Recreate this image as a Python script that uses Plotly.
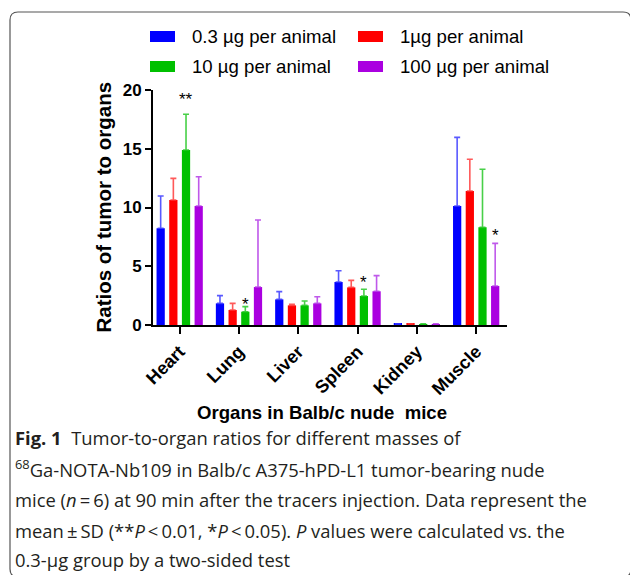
import plotly.graph_objects as go

# ---------------- data ----------------
organs = ["Heart", "Lung", "Liver", "Spleen", "Kidney", "Muscle"]
series_names = ["0.3 µg per animal", "1µg per animal", "10 µg per animal", "100 µg per animal"]
colors = ["#0000FF", "#FF0000", "#00C000", "#AA00E0"]
err_colors = ["rgba(60,60,255,0.85)", "rgba(255,60,60,0.85)", "rgba(40,200,40,0.85)", "rgba(180,60,230,0.85)"]

mean_03 = [8.23, 1.84, 2.18, 3.66, 0.09, 10.13]
sd_03 = [2.75, 0.66, 0.66, 0.96, 0.02, 5.84]
mean_1 = [10.64, 1.28, 1.67, 3.20, 0.09, 11.40]
sd_1 = [1.84, 0.56, 0.10, 0.60, 0.02, 2.70]
mean_10 = [14.89, 1.13, 1.67, 2.47, 0.08, 8.31]
sd_10 = [3.04, 0.43, 0.37, 0.57, 0.02, 4.94]
mean_100 = [10.13, 3.23, 1.84, 2.87, 0.08, 3.32]
sd_100 = [2.49, 5.71, 0.57, 1.33, 0.02, 3.63]

means = [mean_03, mean_1, mean_10, mean_100]
sds = [sd_03, sd_1, sd_10, sd_100]

y_ticks = [0, 5, 10, 15, 20]

# significance marks: (organ index, series index, label, y position)
sig_organ = [0, 1, 3, 5]
sig_series = [2, 2, 2, 3]
sig_label = ["**", "*", "*", "*"]
sig_y = [19.5, 2.1, 4.0, 8.0]

x_title = "Organs in Balb/c nude\u00a0 mice"
y_title = "Ratios of tumor to organs"
caption_lines = [
    "<b>Fig. 1</b>\u00a0 Tumor-to-organ ratios for different masses of",
    "<sup>68</sup>Ga-NOTA-Nb109 in Balb/c A375-hPD-L1 tumor-bearing nude",
    "mice (<i>n</i>\u2009=\u20096) at 90 min after the tracers injection. Data represent the",
    "mean\u2009±\u2009SD (**<i>P</i>\u2009<\u20090.01, *<i>P</i>\u2009<\u20090.05). <i>P</i> values were calculated vs. the",
    "0.3-µg group by a two-sided test",
]

# ---------------- layout geometry ----------------
W, H = 630, 575
L, R, T, B = 153, 123, 90, 250
PW, PH = W - L - R, H - T - B
BARGAP = 0.145
NS = len(series_names)


def px_x(px):
    return (px - L) / PW


def px_y(py):
    return (H - B - py) / PH


FONT = "Arial, Liberation Sans, sans-serif"
CAPFONT = "Open Sans, Noto Sans, sans-serif"

fig = go.Figure()
xs = list(range(len(organs)))
for k in range(NS):
    fig.add_trace(go.Bar(
        x=xs, y=means[k], name=series_names[k],
        marker=dict(color=colors[k], line=dict(width=0)),
        error_y=dict(type="data", array=sds[k], arrayminus=[0] * len(organs),
                     symmetric=False, color=err_colors[k], thickness=1.6, width=3),
        showlegend=False,
    ))

annotations = []
# significance asterisks
for o, s, lab, yv in zip(sig_organ, sig_series, sig_label, sig_y):
    off = (1 - BARGAP) * ((s + 0.5) / NS - 0.5)
    annotations.append(dict(x=o + off, y=yv, xref="x", yref="y", text=lab, showarrow=False,
                            font=dict(family=FONT, size=17, color="black"),
                            yanchor="middle", yshift=-4))

# manual legend
shapes = []
leg_sw_x = [150, 358]
leg_txt_x = [190, 398]
leg_row_y = [36.5, 66.5]
for k in range(NS):
    col, row = k % 2, k // 2
    shapes.append(dict(type="rect", xref="paper", yref="paper",
                       x0=px_x(leg_sw_x[col]), x1=px_x(leg_sw_x[col] + 25),
                       y0=px_y(leg_row_y[row] - 5.5), y1=px_y(leg_row_y[row] + 5.5),
                       fillcolor=colors[k], line=dict(width=0)))
    annotations.append(dict(x=px_x(leg_txt_x[col]), y=px_y(leg_row_y[row]), xref="paper", yref="paper",
                            text=series_names[k], showarrow=False, xanchor="left", yanchor="middle",
                            font=dict(family=FONT, size=18.6, color="black")))

# axis titles
annotations.append(dict(x=px_x(322), y=px_y(412), xref="paper", yref="paper", text=x_title,
                        showarrow=False, xanchor="center", yanchor="middle",
                        font=dict(family=FONT, size=18.6, color="black", weight="bold")))
annotations.append(dict(x=px_x(103), y=px_y(207.5), xref="paper", yref="paper", text=y_title,
                        showarrow=False, xanchor="center", yanchor="middle", textangle=-90,
                        font=dict(family=FONT, size=20.5, color="black", weight="bold")))

# caption
cap_y = [437, 468, 499, 530, 559]
for line, yy in zip(caption_lines, cap_y):
    annotations.append(dict(x=px_x(13), y=px_y(yy), xref="paper", yref="paper", text=line,
                            showarrow=False, xanchor="left", yanchor="middle",
                            font=dict(family=CAPFONT, size=18.4, color="#231F20")))

# rounded border frame
bx0, by0, bx1, by1, rr = 10, 12, 631, 577, 8
path = (f"M {px_x(bx0)},{px_y(by1 - rr)} "
        f"L {px_x(bx0)},{px_y(by0 + rr)} "
        f"Q {px_x(bx0)},{px_y(by0)} {px_x(bx0 + rr)},{px_y(by0)} "
        f"L {px_x(bx1 - rr)},{px_y(by0)} "
        f"Q {px_x(bx1)},{px_y(by0)} {px_x(bx1)},{px_y(by0 + rr)} "
        f"L {px_x(bx1)},{px_y(by1 - rr)} "
        f"Q {px_x(bx1)},{px_y(by1)} {px_x(bx1 - rr)},{px_y(by1)} "
        f"L {px_x(bx0 + rr)},{px_y(by1)} "
        f"Q {px_x(bx0)},{px_y(by1)} {px_x(bx0)},{px_y(by1 - rr)} Z")
shapes.append(dict(type="path", xref="paper", yref="paper", path=path,
                   line=dict(color="#555555", width=1.2), fillcolor="rgba(0,0,0,0)"))

fig.update_layout(
    width=W, height=H,
    margin=dict(l=L, r=R, t=T, b=B, pad=0),
    paper_bgcolor="white", plot_bgcolor="white",
    barmode="group", bargap=BARGAP, bargroupgap=0.35,
    showlegend=False,
    annotations=annotations,
    shapes=shapes,
    xaxis=dict(range=[-0.45, 5.52], tickmode="array", tickvals=xs, ticktext=organs,
               tickangle=-45, ticks="outside", ticklen=7, tickwidth=2, tickcolor="black",
               showline=True, linecolor="black", linewidth=2, showgrid=False, zeroline=False,
               tickfont=dict(family=FONT, size=18, color="black", weight="bold")),
    yaxis=dict(range=[0, 20], tickmode="array", tickvals=y_ticks,
               ticks="outside", ticklen=6, tickwidth=2, tickcolor="black",
               showline=True, linecolor="black", linewidth=2, showgrid=False, zeroline=False,
               tickfont=dict(family=FONT, size=17, color="black", weight="bold")),
)

fig.write_html("out.html")
